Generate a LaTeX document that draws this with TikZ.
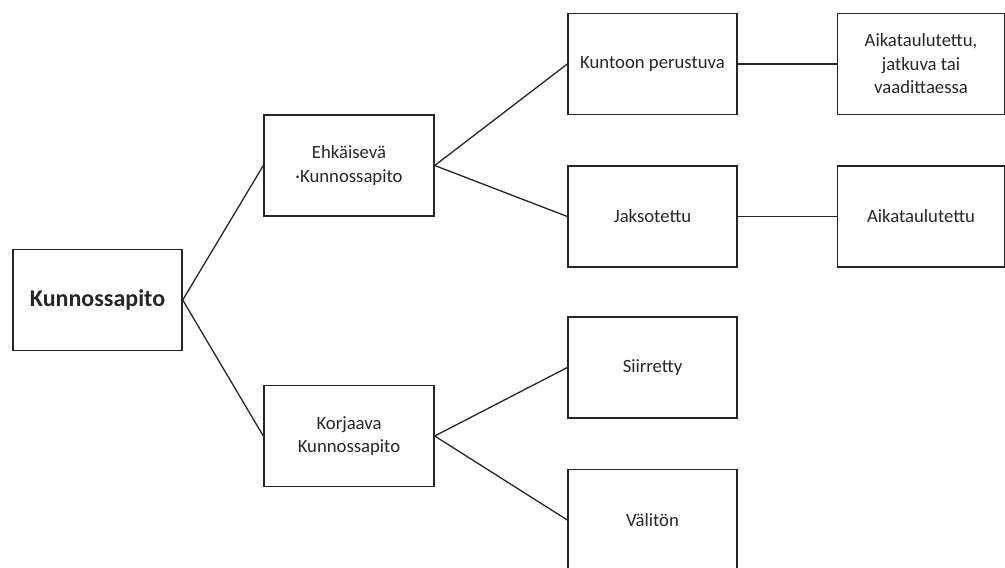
\documentclass[tikz,border=0pt]{standalone}
\usepackage{fontspec}
\setmainfont{Carlito}

\begin{document}
\begin{tikzpicture}[
  x = 1pt, y = -1pt,
  line width = 1.4pt,
  draw = black!85,
  box/.style = {
    draw, rectangle, align = center,
    minimum width = 169pt, minimum height = 101pt,
    inner sep = 2pt, text = black!85,
    font = \fontsize{18.7}{23.5}\selectfont},
  rootbox/.append style = {
    box, font = \fontsize{24}{28}\selectfont\bfseries},
  link/.style = {line width = 1.3pt}
  ]
  \useasboundingbox (0,0) rectangle (1005,568);

  \node [rootbox] (kp) at (97.5,300) {Kunnossapito};

  \node [box, minimum width = 170pt] (ehk) at (349,165.5)
    {Ehkäisevä\\·Kunnossapito};
  \node [box, minimum width = 170pt] (korj) at (349,436)
    {Korjaava\\Kunnossapito};

  \node [box] (kunto) at (652.5,64) {Kuntoon perustuva};
  \node [box] (jakso) at (652.5,216.5) {Jaksotettu};
  \node [box] (siirr) at (652.5,367.5) {Siirretty};
  \node [box] (valit) at (652.5,520) {Välitön};

  \node [box, minimum width = 167pt] (aika1) at (921,64)
    {Aikataulutettu,\\jatkuva tai\\vaadittaessa};
  \node [box, minimum width = 167pt] (aika2) at (921,216.5)
    {Aikataulutettu};

  % connectors
  \draw [link] (kp.east) -- (ehk.west);
  \draw [link] (kp.east) -- (korj.west);
  \draw [link] (ehk.east) -- (kunto.west);
  \draw [link] (ehk.east) -- (jakso.west);
  \draw [link] (korj.east) -- (siirr.west);
  \draw [link] (korj.east) -- (valit.west);
  \draw [link] (kunto.east) -- (aika1.west);
  \draw [link] (jakso.east) -- (aika2.west);
\end{tikzpicture}
\end{document}
